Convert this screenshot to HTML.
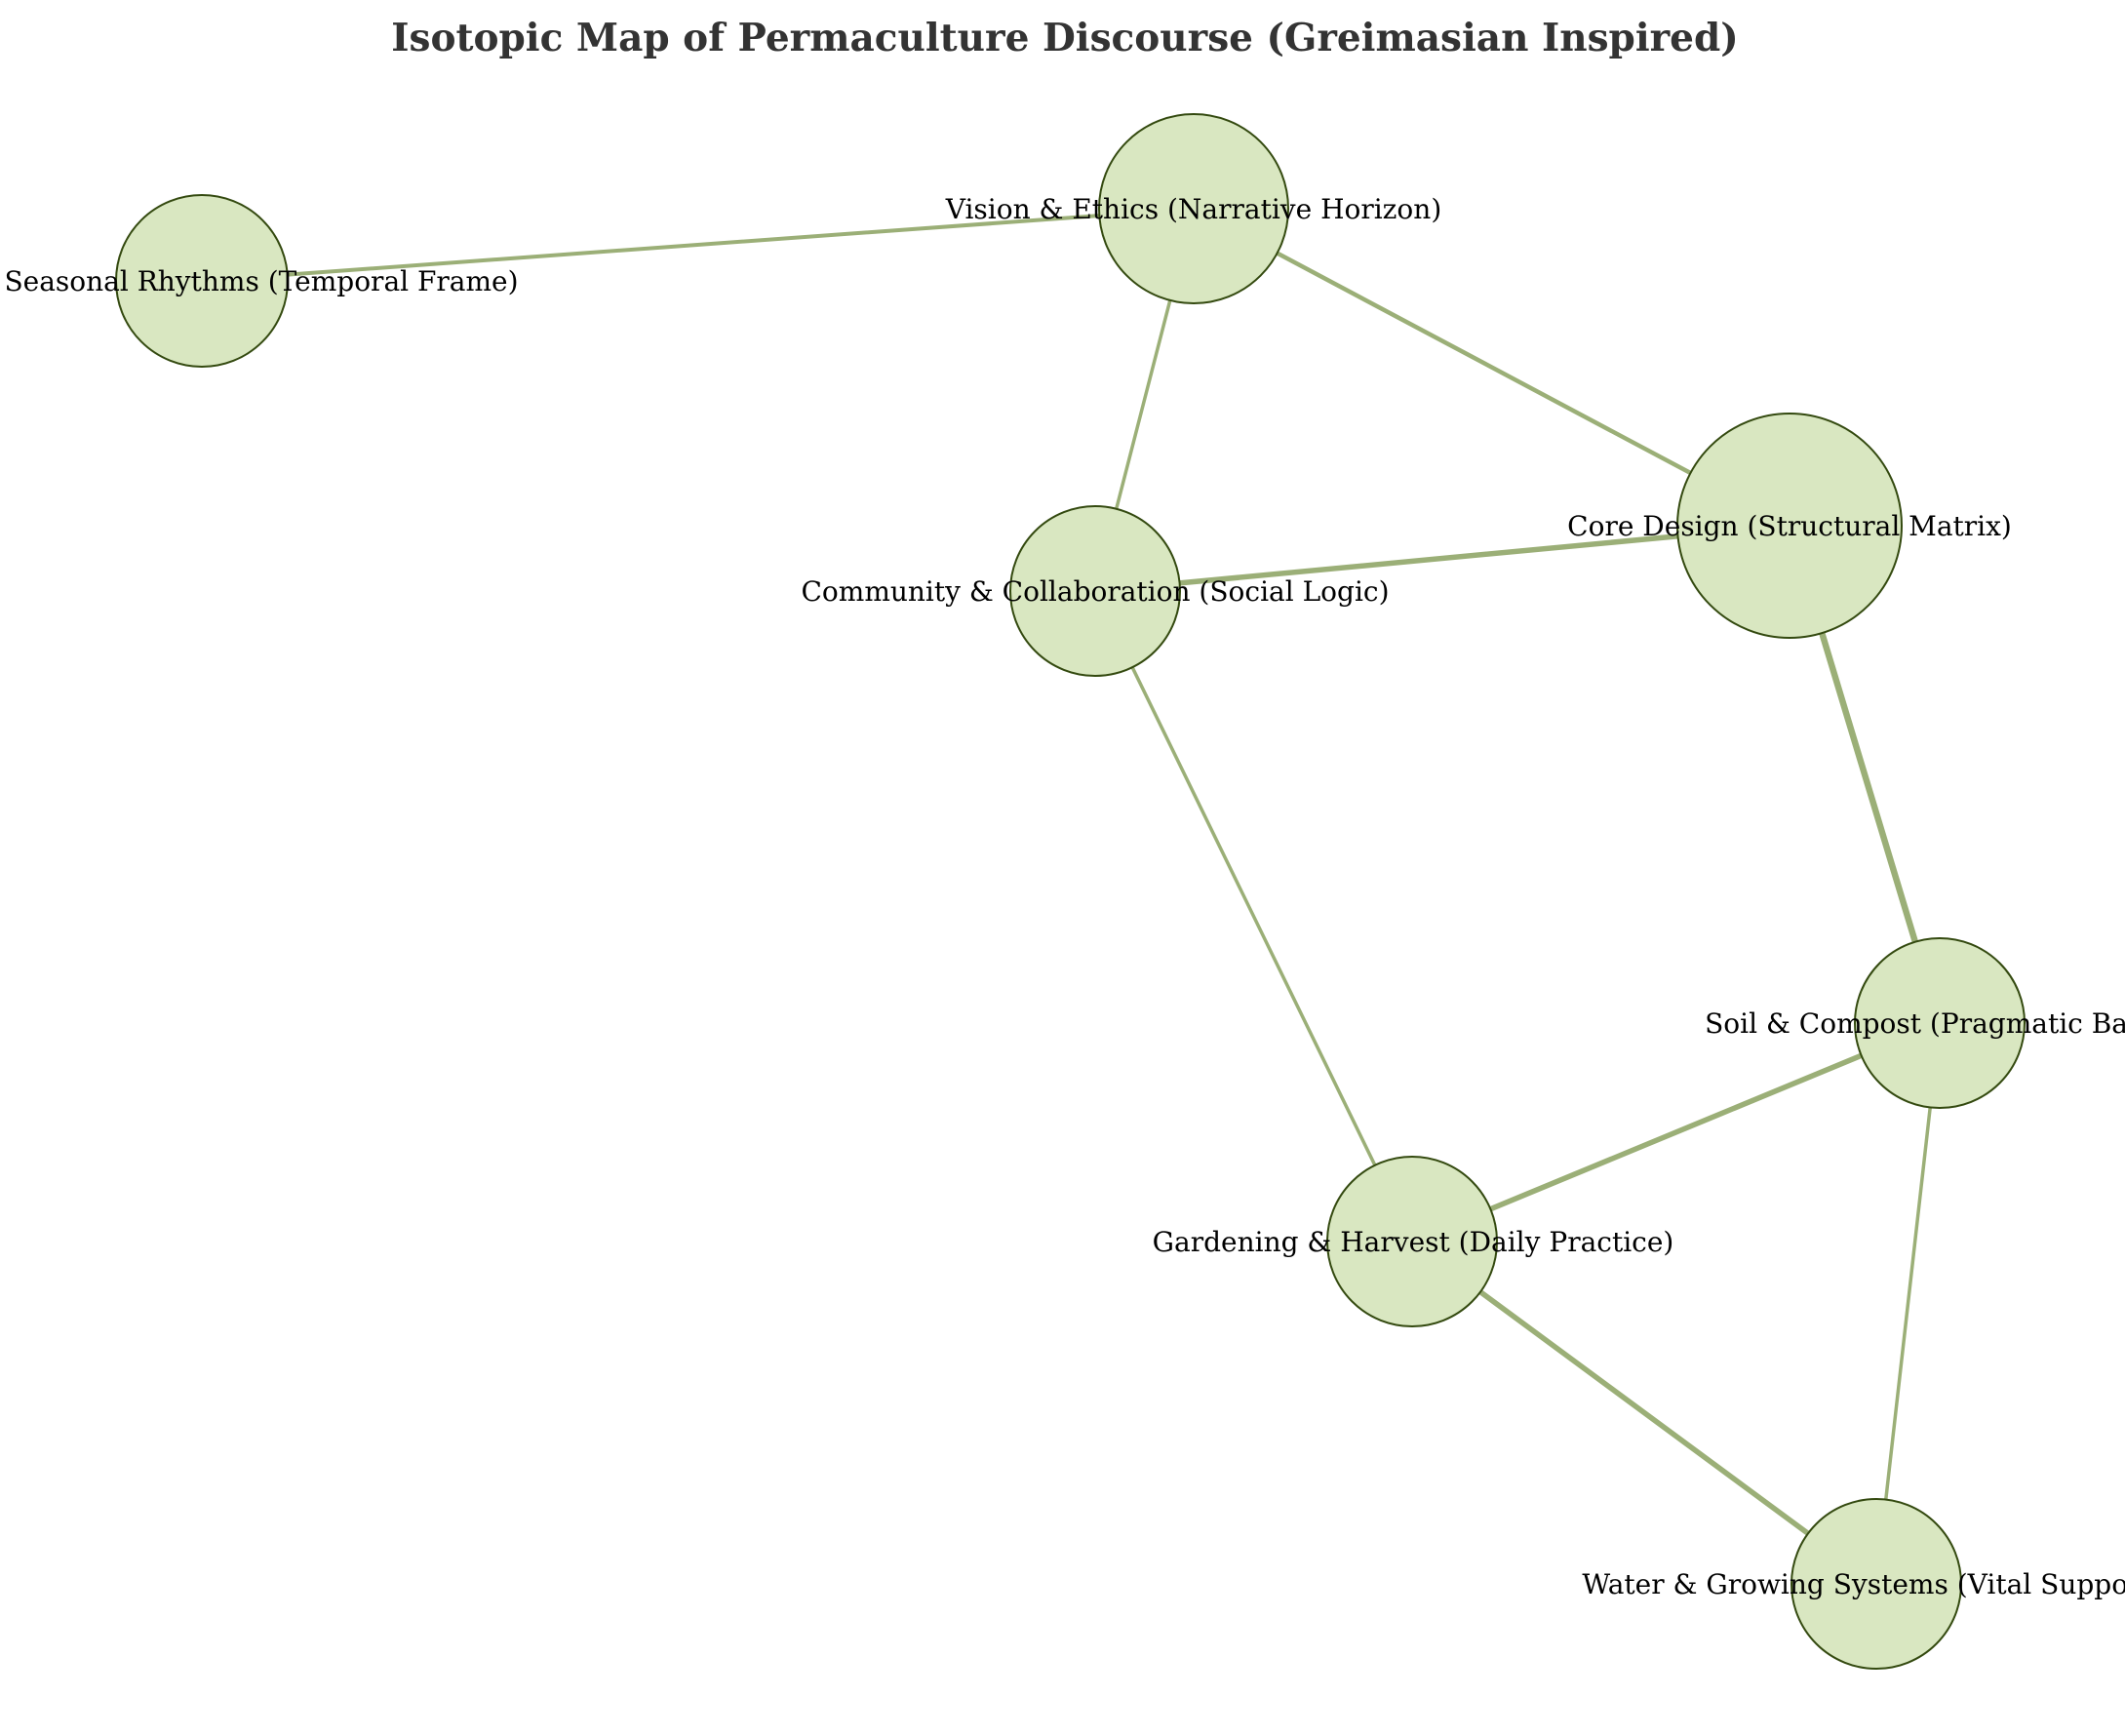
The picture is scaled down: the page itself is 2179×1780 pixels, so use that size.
<!DOCTYPE html>
<html><head><meta charset="utf-8"><style>html,body{margin:0;padding:0;background:#fff}svg{display:block}</style></head>
<body>
<svg width="2179" height="1780" viewBox="0 0 2179 1780" xmlns="http://www.w3.org/2000/svg">
<rect width="2179" height="1780" fill="#fff"/>
<text x="1092" y="52" text-anchor="middle" font-family="DejaVu Serif, Liberation Serif, serif" font-weight="bold" font-size="39" fill="#333">Isotopic Map of Permaculture Discourse (Greimasian Inspired)</text>
<g stroke="#96ab70" stroke-linecap="round" opacity="0.95">
<line x1="207" y1="288" x2="1224" y2="214" stroke-width="4"/>
<line x1="1224" y1="214" x2="1123" y2="606" stroke-width="3.5"/>
<line x1="1224" y1="214" x2="1835" y2="539" stroke-width="4.5"/>
<line x1="1123" y1="606" x2="1835" y2="539" stroke-width="5.5"/>
<line x1="1835" y1="539" x2="1989" y2="1049" stroke-width="6.5"/>
<line x1="1123" y1="606" x2="1448" y2="1273" stroke-width="3.5"/>
<line x1="1448" y1="1273" x2="1989" y2="1049" stroke-width="5.5"/>
<line x1="1448" y1="1273" x2="1924" y2="1624" stroke-width="5.5"/>
<line x1="1989" y1="1049" x2="1924" y2="1624" stroke-width="3.5"/>
</g>
<g fill="#d9e7c1" stroke="#344a10" stroke-width="2">
<circle cx="207" cy="288" r="88"/>
<circle cx="1224" cy="214" r="97"/>
<circle cx="1123" cy="606" r="87"/>
<circle cx="1835" cy="539" r="115"/>
<circle cx="1989" cy="1049" r="87"/>
<circle cx="1448" cy="1273" r="87"/>
<circle cx="1924" cy="1624" r="87"/>
</g>
<g font-family="DejaVu Serif, Liberation Serif, serif" font-size="28" fill="#000" text-anchor="middle">
<text x="268" y="298">Seasonal Rhythms (Temporal Frame)</text>
<text x="1224" y="224">Vision &amp; Ethics (Narrative Horizon)</text>
<text x="1123" y="616">Community &amp; Collaboration (Social Logic)</text>
<text x="1835" y="549">Core Design (Structural Matrix)</text>
<text x="1986" y="1059">Soil &amp; Compost (Pragmatic Base)</text>
<text x="1449" y="1283">Gardening &amp; Harvest (Daily Practice)</text>
<text x="1920" y="1634">Water &amp; Growing Systems (Vital Support)</text>
</g>
</svg>
</body></html>
